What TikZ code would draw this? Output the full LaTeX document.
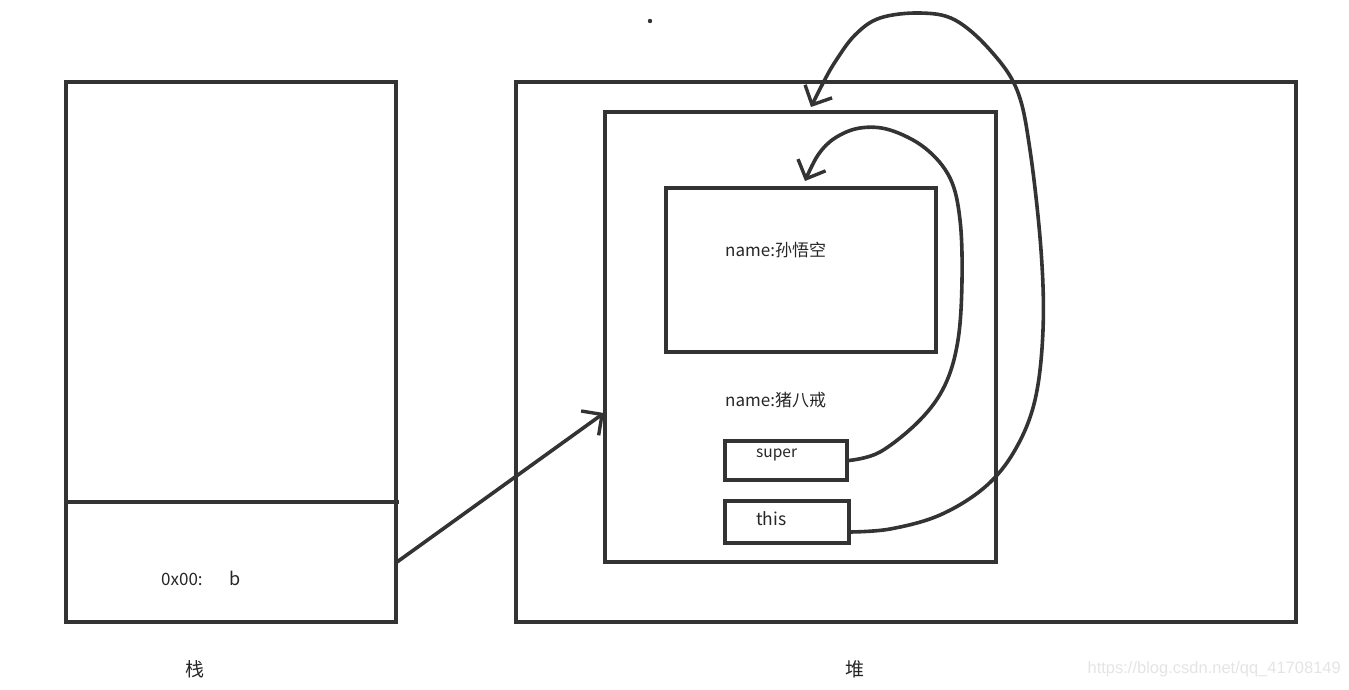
\documentclass[tikz,border=0pt]{standalone}
\usepackage{fontspec}
\setmainfont{Noto Sans CJK SC}
\newfontfamily\wmfont{Liberation Sans}
\usetikzlibrary{arrows.meta}
\definecolor{ink}{HTML}{333333}
\definecolor{wm}{HTML}{E4E4E4}
\tikzset{
  box/.style={draw=ink, line width=3.4pt, rectangle, inner sep=0pt},
  pen/.style={draw=ink, line width=3.6pt, line cap=round, line join=round},
  barb/.style={-{Straight Barb[length=15pt,width=30pt,line width=3.4pt]}},
  lbl/.style={text=black!85, inner sep=0pt, anchor=west}
}
\begin{document}
\begin{tikzpicture}[x=1pt,y=-1pt]
\useasboundingbox (0,0) rectangle (1349,689);
% stack
\node[box, minimum width=330pt, minimum height=540pt] (stack) at (231,352) {};
\coordinate (divL) at (66,502);
\coordinate (divR) at (399,502);
\draw[pen, line cap=butt] (divL) -- (divR);
% heap
\node[box, minimum width=780pt, minimum height=540pt] (heap) at (906,352) {};
\node[box, minimum width=391pt, minimum height=450pt] (inner) at (800.5,337) {};
\node[box, minimum width=270pt, minimum height=164pt] (parent) at (801,270) {};
\node[box, minimum width=122pt, minimum height=39pt] (sup) at (786,460.5) {};
\node[box, minimum width=124pt, minimum height=42pt] (this) at (787,522) {};
% texts
\node[lbl, font=\fontsize{17}{17}\selectfont] (n1) at (725,250) {name:孙悟空};
\node[lbl, font=\fontsize{17}{17}\selectfont] (n2) at (725,400) {name:猪八戒};
\node[lbl, font=\fontsize{15.5}{15.5}\selectfont] (tsup) at (756,455) {super};
\node[lbl, font=\fontsize{17.5}{17.5}\selectfont] (tthis) at (756,519) {this};
\node[lbl, font=\fontsize{17}{17}\selectfont] (addr) at (161,579) {0x00:};
\node[lbl, font=\fontsize{18}{18}\selectfont] (bvar) at (229,578) {b};
\node[font=\fontsize{19}{19}\selectfont, text=black!85] (zhan) at (195,669) {栈};
\node[font=\fontsize{19}{19}\selectfont, text=black!85] (dui) at (855,669) {堆};
\node[font=\wmfont\fontsize{16.5}{16.5}\selectfont, text=wm, anchor=east, inner sep=0pt] (wmark) at (1341,669) {https://blog.csdn.net/qq\_41708149};
% dot
\fill[ink] (650,21) circle (2.2pt);
% reference arrow from b to object
\coordinate (bout) at (397,562);
\coordinate (objin) at (604,413);
\draw[pen, barb] (bout) -- (objin);
% super curve
\coordinate (suptip) at (805,181);
\draw[pen, barb] plot[smooth, tension=0.6] coordinates {
  (sup.east) (880,452) (920,420) (945,385) (958,340) (962,280)
  (960,220) (950,178) (925,148) (890,130) (860,128) (835,138) (818,155) (suptip)};
% this curve
\coordinate (thisout) at (849,532);
\coordinate (thistip) at (811,107);
\draw[pen, barb] plot[smooth, tension=0.6] coordinates {
  (thisout) (890,529) (940,515) (985,487) (1015,450) (1035,400) (1043,330)
  (1041,250) (1030,150) (1017,90) (990,50) (955,20) (920,13) (880,18)
  (855,35) (835,62) (822,85) (thistip)};
\end{tikzpicture}
\end{document}
